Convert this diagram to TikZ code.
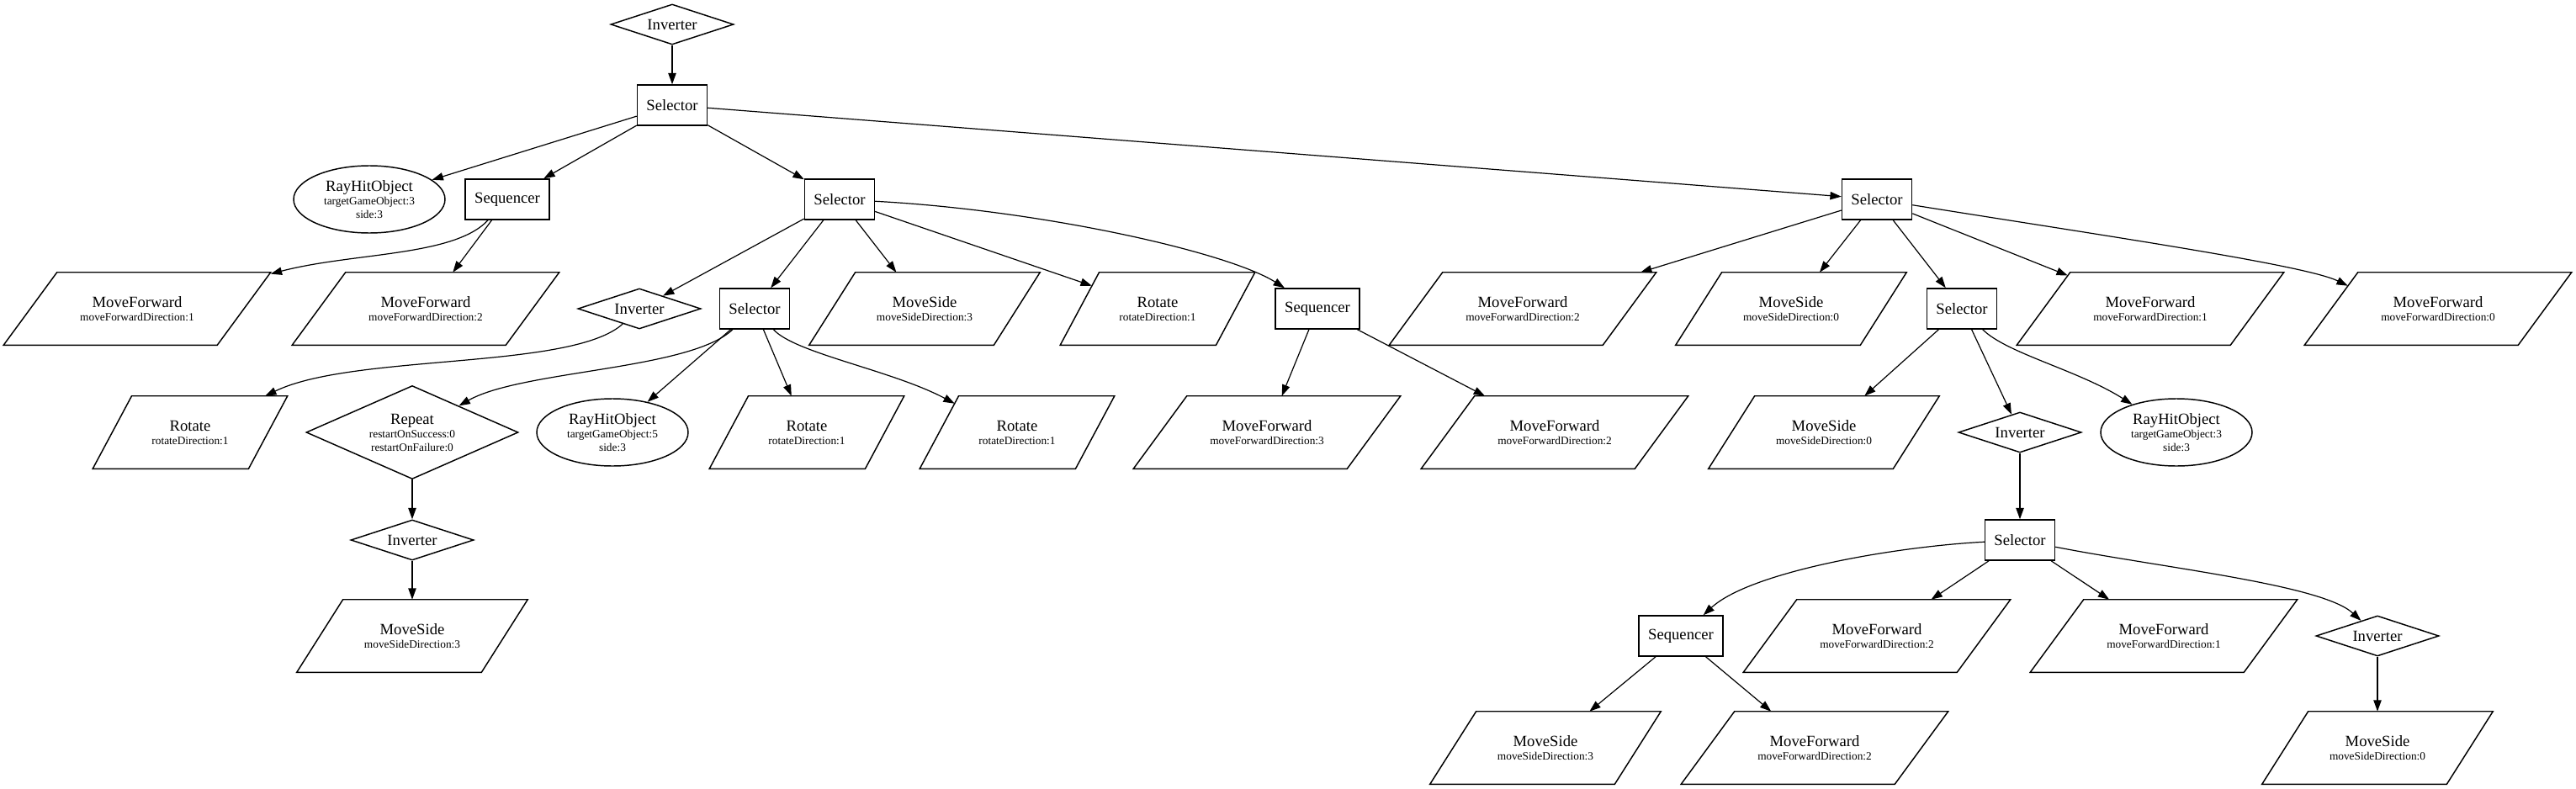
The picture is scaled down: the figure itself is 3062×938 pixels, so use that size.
\documentclass[tikz,border=0pt]{standalone}
\usepackage{fontspec}
\setmainfont{Liberation Serif}
\usetikzlibrary{shapes.geometric,arrows.meta,calc}
\newcommand\sm[1]{{\fontsize{10}{12}\selectfont #1}}
\begin{document}
\begin{tikzpicture}[x=0.75pt,y=-0.75pt,
  every node/.style={font=\fontsize{14}{12}\selectfont, align=center, inner sep=0pt},
  boxn/.style={draw, rectangle, minimum width=#1*0.75pt, minimum height=36pt, line width=1.1pt},
  para/.style={rectangle, minimum width=#1*0.75pt, minimum height=64.5pt},
  ell/.style={draw, ellipse, minimum width=135pt, minimum height=60pt, line width=1.1pt},
  dia/.style={draw, diamond, shape aspect=3, minimum width=109.5pt, minimum height=36pt, line width=1.1pt},
  bigdia/.style={draw, diamond, shape aspect=2.27, minimum width=189pt, minimum height=83.25pt, line width=1.1pt},
  arr/.style={-{Triangle[length=10pt,width=7pt]}, line width=0.9pt},
  parline/.style={line width=1.1pt, line join=miter}
]
\useasboundingbox (0,0) rectangle (3062,938);

% row 0-1
\node[dia] (inv0) at (799,29) {Inverter};
\node[boxn=83] (sel1) at (799,125) {Selector};
% row 2
\node[ell] (ray1) at (439,237) {RayHitObject\\\sm{targetGameObject:3}\\\sm{side:3}};
\node[boxn=100] (seq1) at (603,237) {Sequencer};
\node[boxn=83] (sel2) at (998,237) {Selector};
\node[boxn=83] (sel4) at (2231,237) {Selector};
% row 3
\node[para=317] (mf1a) at (163,367) {MoveForward\\\sm{moveForwardDirection:1}};
\node[para=317] (mf2a) at (506,367) {MoveForward\\\sm{moveForwardDirection:2}};
\node[dia] (inv1) at (760,367) {Inverter};
\node[boxn=83] (sel3) at (897,367) {Selector};
\node[para=274] (ms3a) at (1099,367) {MoveSide\\\sm{moveSideDirection:3}};
\node[para=231] (rot1a) at (1376,367) {Rotate\\\sm{rotateDirection:1}};
\node[boxn=100] (seq2) at (1566,367) {Sequencer};
\node[para=317] (mf2b) at (1810,367) {MoveForward\\\sm{moveForwardDirection:2}};
\node[para=274] (ms0a) at (2129,367) {MoveSide\\\sm{moveSideDirection:0}};
\node[boxn=83] (sel5) at (2332,367) {Selector};
\node[para=317] (mf1b) at (2556,367) {MoveForward\\\sm{moveForwardDirection:1}};
\node[para=317] (mf0) at (2898,367) {MoveForward\\\sm{moveForwardDirection:0}};
% row 4
\node[para=231] (rot1b) at (226,514) {Rotate\\\sm{rotateDirection:1}};
\node[bigdia] (rep) at (490,514) {Repeat\\\sm{restartOnSuccess:0}\\\sm{restartOnFailure:0}};
\node[ell] (ray2) at (728,514) {RayHitObject\\\sm{targetGameObject:5}\\\sm{side:3}};
\node[para=231] (rot1c) at (959,514) {Rotate\\\sm{rotateDirection:1}};
\node[para=231] (rot1d) at (1209,514) {Rotate\\\sm{rotateDirection:1}};
\node[para=317] (mf3) at (1506,514) {MoveForward\\\sm{moveForwardDirection:3}};
\node[para=317] (mf2c) at (1848,514) {MoveForward\\\sm{moveForwardDirection:2}};
\node[para=274] (ms0b) at (2168,514) {MoveSide\\\sm{moveSideDirection:0}};
\node[dia] (inv2) at (2401,514) {Inverter};
\node[ell] (ray3) at (2587,514) {RayHitObject\\\sm{targetGameObject:3}\\\sm{side:3}};
% row 5
\node[dia] (inv3) at (490,642) {Inverter};
\node[boxn=83] (sel6) at (2401,642) {Selector};
% row 6
\node[para=274] (ms3b) at (490,756) {MoveSide\\\sm{moveSideDirection:3}};
\node[boxn=100] (seq3) at (1998,756) {Sequencer};
\node[para=317] (mf2d) at (2231,756) {MoveForward\\\sm{moveForwardDirection:2}};
\node[para=317] (mf1c) at (2572,756) {MoveForward\\\sm{moveForwardDirection:1}};
\node[dia] (inv4) at (2826,756) {Inverter};
% row 7
\node[para=274] (ms3c) at (1837,889) {MoveSide\\\sm{moveSideDirection:3}};
\node[para=317] (mf2e) at (2157,889) {MoveForward\\\sm{moveForwardDirection:2}};
\node[para=274] (ms0c) at (2826,889) {MoveSide\\\sm{moveSideDirection:0}};

% parallelogram outlines
\foreach \n in {mf1a,mf2a,ms3a,rot1a,mf2b,ms0a,mf1b,mf0,rot1b,rot1c,rot1d,mf3,mf2c,ms0b,ms3b,mf2d,mf1c,ms3c,mf2e,ms0c}
  \draw[parline] (\n.south west) -- ($(\n.north west)!0.2!(\n.north east)$) -- (\n.north east) -- ($(\n.south west)!0.8!(\n.south east)$) -- cycle;

% edges
\draw[arr] (inv0) -- (sel1);
\draw[arr] (sel1) -- (ray1);
\draw[arr] (sel1) -- (seq1);
\draw[arr] (sel1) -- (sel2);
\draw[arr] (sel1) -- (sel4);
\draw[arr] (seq1) .. controls (540,305) and (420,300) .. (mf1a);
\draw[arr] (seq1) -- (mf2a);
\draw[arr] (sel2) -- (inv1);
\draw[arr] (sel2) -- (sel3);
\draw[arr] (sel2) -- (ms3a);
\draw[arr] (sel2) -- ([shift={(37.6,16)}]rot1a.north west);
\draw[arr] (sel2) .. controls (1240,250) and (1460,300) .. (seq2);
\draw[arr] (inv1) .. controls (680,440) and (420,420) .. (rot1b);
\draw[arr] (sel3) .. controls (820,440) and (620,440) .. (rep);
\draw[arr] (sel3) -- (ray2);
\draw[arr] (sel3) -- (rot1c);
\draw[arr] (sel3) .. controls (945,420) and (1060,440) .. ([shift={(41.5,9)}]rot1d.north west);
\draw[arr] (rep) -- (inv3);
\draw[arr] (inv3) -- (ms3b);
\draw[arr] (seq2) -- (mf3);
\draw[arr] (seq2) -- (mf2c);
\draw[arr] (sel4) -- (mf2b);
\draw[arr] (sel4) -- (ms0a);
\draw[arr] (sel4) -- (sel5);
\draw[arr] (sel4) -- ([shift={(60.6,3.8)}]mf1b.north west);
\draw[arr] (sel4) .. controls (2500,280) and (2740,315) .. ([shift={(51.5,16)}]mf0.north west);
\draw[arr] (sel5) -- (ms0b);
\draw[arr] (sel5) -- (inv2);
\draw[arr] (sel5) .. controls (2385,420) and (2470,440) .. (ray3);
\draw[arr] (inv2) -- (sel6);
\draw[arr] (sel6) .. controls (2250,650) and (2080,680) .. (seq3);
\draw[arr] (sel6) -- (mf2d);
\draw[arr] (sel6) -- (mf1c);
\draw[arr] (sel6) .. controls (2570,675) and (2760,695) .. (inv4);
\draw[arr] (seq3) -- (ms3c);
\draw[arr] (seq3) -- (mf2e);
\draw[arr] (inv4) -- (ms0c);
\end{tikzpicture}
\end{document}
